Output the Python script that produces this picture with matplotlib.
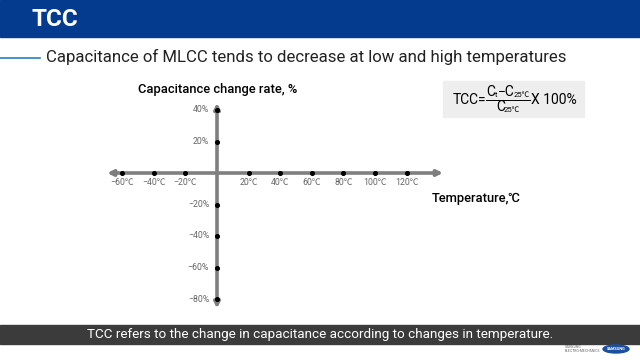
import matplotlib.pyplot as plt
from matplotlib.patches import Rectangle, Ellipse

plt.rcParams['font.family'] = ['Roboto', 'Noto Sans CJK KR', 'DejaVu Sans']

# data
temps = [-60, -40, -20, 20, 40, 60, 80, 100, 120]
temp_labels = ['−60℃', '−40℃', '−20℃', '20℃', '40℃', '60℃', '80℃', '100℃', '120℃']
rates = [40, 20, -20, -40, -60, -80]
rate_labels = ['40%', '20%', '−20%', '−40%', '−60%', '−80%']

W, H = 640, 360
fig = plt.figure(figsize=(6.4, 3.6), dpi=100)


def fx(x):
    return x / W


def fy(y):
    return 1 - y / H


# header band
fig.patches.append(Rectangle((0, fy(37)), 1, 37 / H, transform=fig.transFigure,
                             color='#053b8f', zorder=0))
fig.text(fx(32), fy(20), 'TCC', color='white', fontsize=17.5, fontweight='bold',
         va='center', ha='left')
fig.add_artist(plt.Line2D([0, fx(40)], [fy(58), fy(58)], transform=fig.transFigure,
                          color='#2a7fc0', lw=1.2))
fig.text(fx(46), fy(57), 'Capacitance of MLCC tends to decrease at low and high temperatures',
         fontsize=12.1, color='#222222', va='center', ha='left')

# chart axes, placed so one data unit matches the reference pixel scale
ax = fig.add_axes([fx(98.5), fy(314.75), 355.5 / W, 220.5 / H])
ax.set_xlim(-75, 150)
ax.set_ylim(-90, 50)
ax.axis('off')

arrow = dict(arrowstyle='-|>', color='#7f7f7f', lw=2.6, mutation_scale=8,
             shrinkA=0, shrinkB=0)
ax.annotate('', xy=(-69.5, 0), xytext=(0, 0), arrowprops=arrow)
ax.annotate('', xy=(143, 0), xytext=(0, 0), arrowprops=arrow)
ax.annotate('', xy=(0, 44.5), xytext=(0, 0), arrowprops=arrow)
ax.annotate('', xy=(0, -86), xytext=(0, 0), arrowprops=arrow)

ax.scatter(temps, [0] * len(temps), s=7, color='black', zorder=3)
ax.scatter([0] * len(rates), rates, s=7, color='black', zorder=3)

for t, lab in zip(temps, temp_labels):
    ax.text(t, -6, lab, fontsize=6.3, color='#666666', ha='center', va='center')
for r, lab in zip(rates, rate_labels):
    ax.text(-5, r, lab, fontsize=6.3, color='#666666', ha='right', va='center')

fig.text(fx(138), fy(90), 'Capacitance change rate, %', fontsize=9.3, color='black',
         fontweight='medium', va='center', ha='left')
fig.text(fx(432), fy(198), 'Temperature,℃', fontsize=9.3, color='black',
         fontweight='medium', va='center', ha='left')

# formula box
fig.patches.append(Rectangle((fx(443), fy(117)), 141 / W, 36 / H, transform=fig.transFigure,
                             color='#eeeeee', zorder=0))
fig.text(fx(453), fy(100), 'TCC=', fontsize=10, va='center', ha='left')
fig.text(fx(486), fy(92), 'C', fontsize=10, va='center', ha='left')
fig.text(fx(494.5), fy(95), 't', fontsize=5.5, va='center', ha='left')
fig.text(fx(498), fy(92), '−C', fontsize=10, va='center', ha='left')
fig.text(fx(514), fy(95), '25℃', fontsize=5.5, va='center', ha='left')
fig.add_artist(plt.Line2D([fx(486), fx(530)], [fy(100), fy(100)], transform=fig.transFigure,
                          color='black', lw=0.7))
fig.text(fx(496), fy(107), 'C', fontsize=10, va='center', ha='left')
fig.text(fx(504), fy(110), '25℃', fontsize=5.5, va='center', ha='left')
fig.text(fx(531), fy(100), 'X 100%', fontsize=10, va='center', ha='left')

# footer band
fig.patches.append(Rectangle((0, fy(344)), 1, 19 / H, transform=fig.transFigure,
                             color='#3b3b3b', zorder=0))
fig.text(0.5, fy(334.5), 'TCC refers to the change in capacitance according to changes in temperature.',
         fontsize=9.7, color='white', va='center', ha='center')

# logo
fig.text(fx(565), fy(349), 'SAMSUNG\nELECTRO-MECHANICS', fontsize=2.5, color='#666666',
         va='center', ha='left', linespacing=1.2)
fig.patches.append(Ellipse((fx(616), fy(349)), 26 / W, 8 / H, transform=fig.transFigure,
                           color='#1d4fa0'))
fig.text(fx(616), fy(349), 'SAMSUNG', fontsize=2.8, color='white', fontweight='bold',
         va='center', ha='center')

fig.savefig('out.png', dpi=100)
